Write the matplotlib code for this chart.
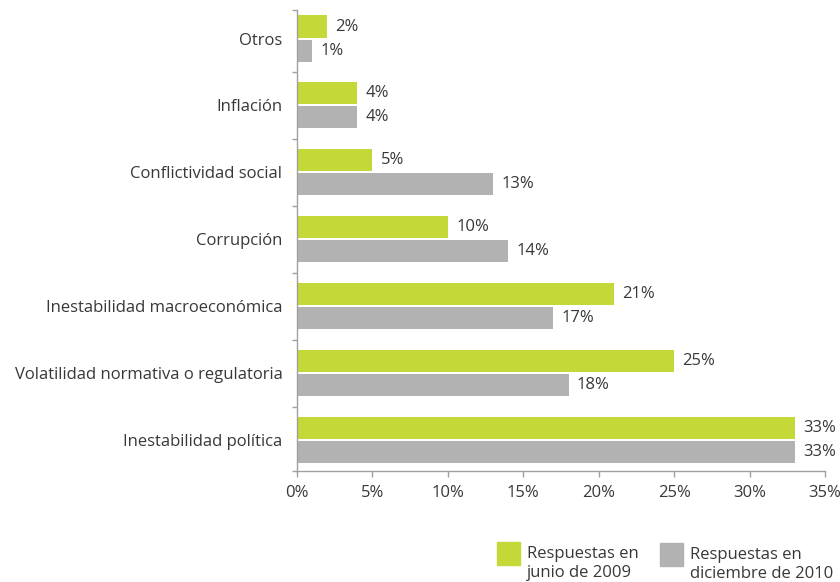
import matplotlib
matplotlib.use('Agg')
import matplotlib.pyplot as plt
import numpy as np
from matplotlib.patches import Rectangle

# encuesta: principales riesgos percibidos
categorias = ['Otros', 'Inflación', 'Conflictividad social', 'Corrupción',
              'Inestabilidad macroeconómica', 'Volatilidad normativa o regulatoria',
              'Inestabilidad política']
junio_2009 = [2, 4, 5, 10, 21, 25, 33]
diciembre_2010 = [1, 4, 13, 14, 17, 18, 33]
series_nombres = ['Respuestas en\njunio de 2009', 'Respuestas en\ndiciembre de 2010']
xticks = [0, 5, 10, 15, 20, 25, 30, 35]

verde = '#c4d937'
gris = '#b2b2b3'
texto = '#383838'
eje = '#a0a0a0'

plt.rcParams['font.family'] = ['Open Sans', 'DejaVu Sans']

fig = plt.figure(figsize=(8.4, 5.82), dpi=100)
ax = fig.add_axes([0.3536, 0.1907, 0.6285, 0.7921])

n = len(categorias)
y = np.arange(n)[::-1].astype(float)
h = 0.329
gap = 0.03

b1 = ax.barh(y + h / 2 + gap / 2, junio_2009, height=h, color=verde)
b2 = ax.barh(y - h / 2 - gap / 2, diciembre_2010, height=h, color=gris)

for bars, vals in ((b1, junio_2009), (b2, diciembre_2010)):
    for b, v in zip(bars, vals):
        ax.text(v + 0.55, b.get_y() + b.get_height() / 2, f'{v}%',
                va='center', ha='left', fontsize=12, color=texto)

ylo, yhi = -0.463, n - 1 + 0.426
ax.set_xlim(0, 35)
ax.set_ylim(ylo, yhi)
ax.set_xticks(xticks)
ax.set_xticklabels([f'{t}%' for t in xticks], fontsize=12, color=texto)

# separadores entre grupos como ticks mayores, nombres en ticks menores
ax.set_yticks([ylo] + list(np.arange(n - 1) + 0.5) + [yhi])
ax.set_yticklabels([])
ax.set_yticks(y, minor=True)
ax.set_yticklabels(categorias, minor=True, fontsize=12, color=texto)
ax.tick_params(axis='y', which='minor', length=0, pad=10.5)
ax.tick_params(axis='y', which='major', length=3.6, color=eje, width=1)
ax.tick_params(axis='x', length=4, color=eje, width=1, pad=6)

for s in ('top', 'right'):
    ax.spines[s].set_visible(False)
for s in ('left', 'bottom'):
    ax.spines[s].set_color(eje)
    ax.spines[s].set_linewidth(1)

# leyenda: cuadro de color y texto alineado arriba
W, H = 840, 582
for x0, top, color, nombre in ((497, 542, verde, series_nombres[0]),
                               (660, 543, gris, series_nombres[1])):
    fig.patches.append(Rectangle((x0 / W, 1 - (top + 23) / H), 23 / W, 23 / H,
                                 transform=fig.transFigure, color=color))
    fig.text((x0 + 30) / W, 1 - (top + 4) / H, nombre, ha='left', va='top',
             fontsize=12, color=texto, linespacing=1.22)

fig.savefig('out.png', dpi=100)
